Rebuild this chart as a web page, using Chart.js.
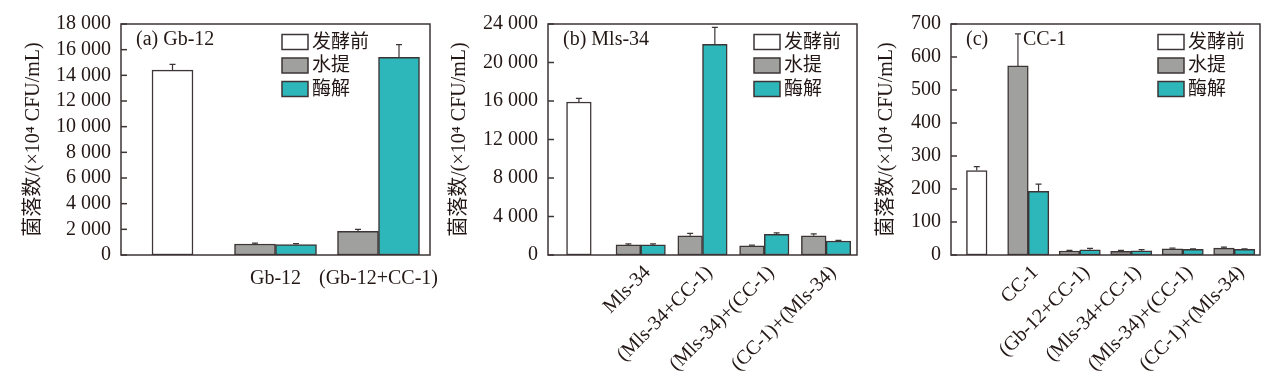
<!DOCTYPE html>
<html>
<head>
<meta charset="utf-8">
<script src="https://cdn.jsdelivr.net/npm/chart.js@4/dist/chart.umd.min.js"></script>
<style>
  html, body { margin: 0; padding: 0; background: #fff; }
  #wrap { position: relative; width: 1267px; height: 385px; }
  .panel { position: absolute; top: 0; height: 385px; }
</style>
</head>
<body>
<div id="wrap">
  <div class="panel" style="left:0;width:450px"><canvas id="chartA"></canvas></div>
  <div class="panel" style="left:440px;width:425px"><canvas id="chartB"></canvas></div>
  <div class="panel" style="left:865px;width:402px"><canvas id="chartC"></canvas></div>
</div>
<script>
// series names
const seriesNames = ['发酵前', '水提', '酶解'];

// (a) Gb-12
const catsA = ['', 'Gb-12', '(Gb-12+CC-1)'];
const beforeA = [14400, null, null];
const beforeErrA = [450, 0, 0];
const waterA = [null, 860, 1850];
const waterErrA = [0, 60, 150];
const enzymeA = [null, 820, 15400];
const enzymeErrA = [0, 60, 1000];
const ticksA = [0, 2000, 4000, 6000, 8000, 10000, 12000, 14000, 16000, 18000];

// (b) Mls-34
const catsB = ['', 'Mls-34', '(Mls-34+CC-1)', '(Mls-34)+(CC-1)', '(CC-1)+(Mls-34)'];
const beforeB = [15900, null, null, null, null];
const beforeErrB = [380, 0, 0, 0, 0];
const waterB = [null, 1050, 2000, 950, 2000];
const waterErrB = [0, 100, 250, 80, 200];
const enzymeB = [null, 1050, 21900, 2150, 1450];
const enzymeErrB = [0, 100, 1750, 150, 60];
const ticksB = [0, 4000, 8000, 12000, 16000, 20000, 24000];

// (c) CC-1
const catsC = ['', 'CC-1', '(Gb-12+CC-1)', '(Mls-34+CC-1)', '(Mls-34)+(CC-1)', '(CC-1)+(Mls-34)'];
const beforeC = [256, null, null, null, null, null];
const beforeErrC = [12, 0, 0, 0, 0, 0];
const waterC = [null, 573, 12, 11, 19, 21];
const waterErrC = [0, 97, 2, 3, 2, 3];
const enzymeC = [null, 193, 16, 13, 17, 17];
const enzymeErrC = [0, 22, 4, 3, 2, 2];
const ticksC = [0, 100, 200, 300, 400, 500, 600, 700];

const FONT = "'Liberation Serif', 'Noto Sans CJK SC', serif";
const INK = '#231815';
const EDGE = '#3d3535';
const fills = ['#ffffff', '#a0a09f', '#2db7bb'];

function fmt(v) {
  return String(v).replace(/\B(?=(\d{3})+(?!\d))/g, ' ');
}

// frame, inward y ticks, error bars, legend and panel label
const decor = {
  id: 'decor',
  afterDatasetsDraw(chart, args, o) {
    const ctx = chart.ctx;
    const a = chart.chartArea;
    const y = chart.scales.y;
    ctx.save();
    ctx.strokeStyle = EDGE;
    ctx.lineWidth = 1.2;

    // error bars (upper half only)
    chart.data.datasets.forEach((ds, di) => {
      const meta = chart.getDatasetMeta(di);
      meta.data.forEach((bar, i) => {
        const v = ds.data[i];
        const e = ds.err[i];
        if (v == null || !e) return;
        const top = y.getPixelForValue(v + e);
        ctx.beginPath();
        ctx.moveTo(bar.x, bar.y);
        ctx.lineTo(bar.x, top);
        ctx.moveTo(bar.x - 3, top);
        ctx.lineTo(bar.x + 3, top);
        ctx.stroke();
      });
    });

    // frame + inward ticks
    ctx.lineWidth = 1.5;
    ctx.strokeRect(a.left, a.top, a.right - a.left, a.bottom - a.top);
    y.ticks.forEach(t => {
      const py = y.getPixelForValue(t.value);
      ctx.beginPath();
      ctx.moveTo(a.left, py);
      ctx.lineTo(a.left + 6, py);
      ctx.stroke();
    });

    // legend
    ctx.font = '19px ' + FONT;
    ctx.textBaseline = 'middle';
    ctx.textAlign = 'left';
    const bx = a.right - o.legendRight;
    chart.data.datasets.forEach((ds, di) => {
      const cy = a.top + 18 + di * 23.5;
      ctx.fillStyle = ds.backgroundColor;
      ctx.fillRect(bx, cy - 7.5, 26, 15);
      ctx.strokeStyle = EDGE;
      ctx.lineWidth = 1.5;
      ctx.strokeRect(bx, cy - 7.5, 26, 15);
      ctx.fillStyle = INK;
      ctx.fillText(ds.label, bx + 30, cy + 1);
    });

    // panel label
    ctx.font = '20px ' + FONT;
    ctx.fillText(o.title, a.left + 15, a.top + 16);
    if (o.subtitle) ctx.fillText(o.subtitle, a.left + o.subtitleX, a.top + 16);
    ctx.restore();
  }
};

function makeChart(id, cats, vals, errs, ticks, s) {
  const datasets = vals.map((d, k) => ({
    label: seriesNames[k],
    data: d,
    err: errs[k],
    backgroundColor: fills[k],
    borderColor: EDGE,
    borderWidth: 1.5,
    borderSkipped: false,
    barThickness: s.barW,
    skipNull: true
  }));
  return new Chart(document.getElementById(id), {
    type: 'bar',
    data: { labels: cats, datasets: datasets },
    plugins: [decor],
    options: {
      responsive: true,
      maintainAspectRatio: false,
      animation: false,
      layout: { padding: { left: s.padLeft, right: s.padRight, top: 24, bottom: 0 } },
      plugins: {
        legend: { display: false },
        tooltip: { enabled: false },
        decor: { legendRight: s.legendRight, title: s.title, subtitle: s.subtitle, subtitleX: s.subtitleX }
      },
      scales: {
        x: {
          grid: { display: false },
          border: { display: false },
          ticks: {
            color: INK,
            font: { family: FONT, size: 20 },
            autoSkip: false,
            minRotation: s.rot,
            maxRotation: s.rot,
            labelOffset: s.rot ? 7 : 0,
            padding: s.rot ? -2 : 4
          },
          afterFit(scale) { scale.height = 130; }
        },
        y: {
          min: 0,
          max: ticks[ticks.length - 1],
          afterBuildTicks(scale) { scale.ticks = ticks.map(v => ({ value: v })); },
          grid: { display: false, drawTicks: false },
          border: { display: false },
          ticks: {
            color: INK,
            font: { family: FONT, size: 20 },
            padding: 10,
            autoSkip: false,
            callback: v => fmt(v)
          },
          title: {
            display: true,
            text: '菌落数/(×10⁴ CFU/mL)',
            color: INK,
            font: { family: FONT, size: 20 },
            padding: { top: 0, bottom: 0 }
          },
          afterFit(scale) { scale.width = s.axisW; }
        }
      }
    }
  });
}

makeChart('chartA', catsA, [beforeA, waterA, enzymeA], [beforeErrA, waterErrA, enzymeErrA], ticksA,
  { barW: 41, padLeft: 22, padRight: 20, axisW: 99, rot: 0, legendRight: 148, title: '(a) Gb-12' });
makeChart('chartB', catsB, [beforeB, waterB, enzymeB], [beforeErrB, waterErrB, enzymeErrB], ticksB,
  { barW: 24.7, padLeft: 8, padRight: 8, axisW: 100, rot: 45, legendRight: 103, title: '(b) Mls-34' });
makeChart('chartC', catsC, [beforeC, waterC, enzymeC], [beforeErrC, waterErrC, enzymeErrC], ticksC,
  { barW: 20.6, padLeft: 10, padRight: 7, axisW: 76, rot: 45, legendRight: 102, title: '(c)', subtitle: 'CC-1', subtitleX: 72 });
</script>
</body>
</html>
